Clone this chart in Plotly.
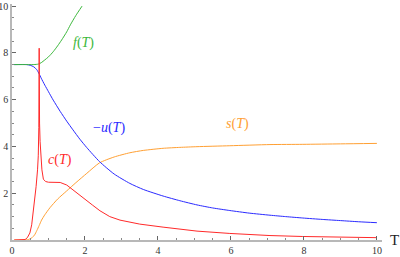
import plotly.graph_objects as go

# ---- data ----
T_f = [0.06, 0.3, 0.6, 0.72, 0.8, 0.9, 1.0, 1.13, 1.25, 1.36, 1.5, 1.6, 1.75, 1.92]
f_vals = [7.5, 7.5, 7.5, 7.52, 7.58, 7.7, 7.83, 8.05, 8.3, 8.55, 8.9, 9.2, 9.6, 10.0]

T_u = [0.06, 0.4, 0.5, 0.6, 0.68, 0.745, 0.8, 0.9, 1.0, 1.13, 1.32, 1.5, 1.67, 1.86, 2.05,
       2.4, 2.8, 3.23, 3.6, 4.14, 4.6, 5.07, 5.5, 5.97, 6.5, 7.07, 7.5, 7.97, 8.5, 9.0, 9.5, 10.0]
mu_vals = [7.5, 7.5, 7.47, 7.4, 7.28, 7.1, 6.92, 6.62, 6.34, 5.98, 5.5, 5.08, 4.71, 4.31, 3.95,
           3.35, 2.82, 2.42, 2.16, 1.88, 1.68, 1.5, 1.37, 1.26, 1.15, 1.06, 1.0, 0.94, 0.88, 0.83, 0.78, 0.74]

T_s = [0.06, 0.35, 0.45, 0.55, 0.62, 0.68, 0.745, 0.81, 0.9, 1.04, 1.25, 1.5, 1.75, 2.05,
       2.4, 2.8, 3.23, 3.6, 4.14, 4.6, 5.07, 5.97, 7.07, 7.97, 9.0, 10.0]
s_vals = [0.0, 0.0, 0.02, 0.1, 0.22, 0.4, 0.62, 0.85, 1.08, 1.38, 1.75, 2.1, 2.45, 2.85,
          3.3, 3.55, 3.73, 3.83, 3.92, 3.96, 3.99, 4.03, 4.08, 4.09, 4.11, 4.13]

T_c = [0.06, 0.3, 0.36, 0.42, 0.49, 0.54, 0.58, 0.62, 0.66, 0.70, 0.72, 0.735, 0.745, 0.755,
       0.77, 0.79, 0.82, 0.86, 0.92, 1.0, 1.15, 1.32, 1.5, 1.7, 1.95, 2.2, 2.41, 2.68, 2.96,
       3.23, 3.5, 4.14, 4.6, 5.07, 5.97, 7.07, 7.97, 9.0, 10.0]
c_vals = [0.0, 0.0, 0.02, 0.1, 0.3, 0.65, 1.15, 1.7, 2.28, 3.0, 3.6, 4.8, 8.2, 5.0,
          4.2, 3.7, 3.0, 2.6, 2.5, 2.47, 2.46, 2.46, 2.35, 2.1, 1.78, 1.5, 1.25, 1.0, 0.85,
          0.76, 0.68, 0.55, 0.46, 0.38, 0.28, 0.19, 0.15, 0.12, 0.1]

x_ticks = [0, 2, 4, 6, 8, 10]
y_ticks = [2, 4, 6, 8, 10]

GREEN = "#3cb83c"
BLUE = "#2a2aff"
RED = "#ff2a2a"
ORANGE = "#ffa033"

fig = go.Figure()
fig.add_trace(go.Scatter(x=T_s, y=s_vals, mode="lines", line=dict(color=ORANGE, width=1, shape="spline", smoothing=0.6)))
fig.add_trace(go.Scatter(x=T_u, y=mu_vals, mode="lines", line=dict(color=BLUE, width=1, shape="spline", smoothing=0.6)))
fig.add_trace(go.Scatter(x=T_f, y=f_vals, mode="lines", line=dict(color=GREEN, width=1, shape="spline", smoothing=0.6)))
fig.add_trace(go.Scatter(x=T_c, y=c_vals, mode="lines", line=dict(color=RED, width=1)))

lab_font = dict(family="Liberation Serif", size=14)
fig.add_annotation(x=1.97, y=8.42, text="<i>f</i>(<i>T</i>)", showarrow=False, font=dict(lab_font, color=GREEN))
fig.add_annotation(x=2.66, y=4.79, text="−<i>u</i>(<i>T</i>)", showarrow=False, font=dict(lab_font, color=BLUE))
fig.add_annotation(x=6.19, y=4.96, text="<i>s</i>(<i>T</i>)", showarrow=False, font=dict(lab_font, color=ORANGE))
fig.add_annotation(x=1.32, y=3.42, text="<i>c</i>(<i>T</i>)", showarrow=False, font=dict(lab_font, color=RED))
fig.add_annotation(x=1.035, y=0, xref="paper", yref="paper", text="T", showarrow=False,
                   xanchor="center", yanchor="middle", font=dict(family="Liberation Serif", size=15, color="#222"))

tick_font = dict(family="Liberation Serif", size=10, color="#333")
fig.update_xaxes(range=[0, 10.14], tickvals=x_ticks, ticks="inside", ticklen=4, tickcolor="#666",
                 showline=True, linecolor="#b8b8b8", linewidth=1.5, showgrid=False, zeroline=False,
                 tickfont=tick_font, automargin=False,
                 minor=dict(dtick=0.5, tick0=0, ticks="inside", ticklen=2.5, tickcolor="#888", showgrid=False))
fig.update_yaxes(range=[0, 10.09], tickvals=y_ticks, ticks="inside", ticklen=4, tickcolor="#666",
                 showline=True, linecolor="#b8b8b8", linewidth=1.5, showgrid=False, zeroline=False,
                 tickfont=tick_font, automargin=False,
                 minor=dict(dtick=0.5, tick0=0, ticks="inside", ticklen=2.5, tickcolor="#888", showgrid=False))

fig.update_layout(width=400, height=257, margin=dict(l=12, r=18, t=4, b=17),
                  paper_bgcolor="white", plot_bgcolor="white", showlegend=False)

fig.write_html("out.html", config={"displayModeBar": False},
               post_script="document.body.style.margin='0';document.body.style.overflow='hidden';")
